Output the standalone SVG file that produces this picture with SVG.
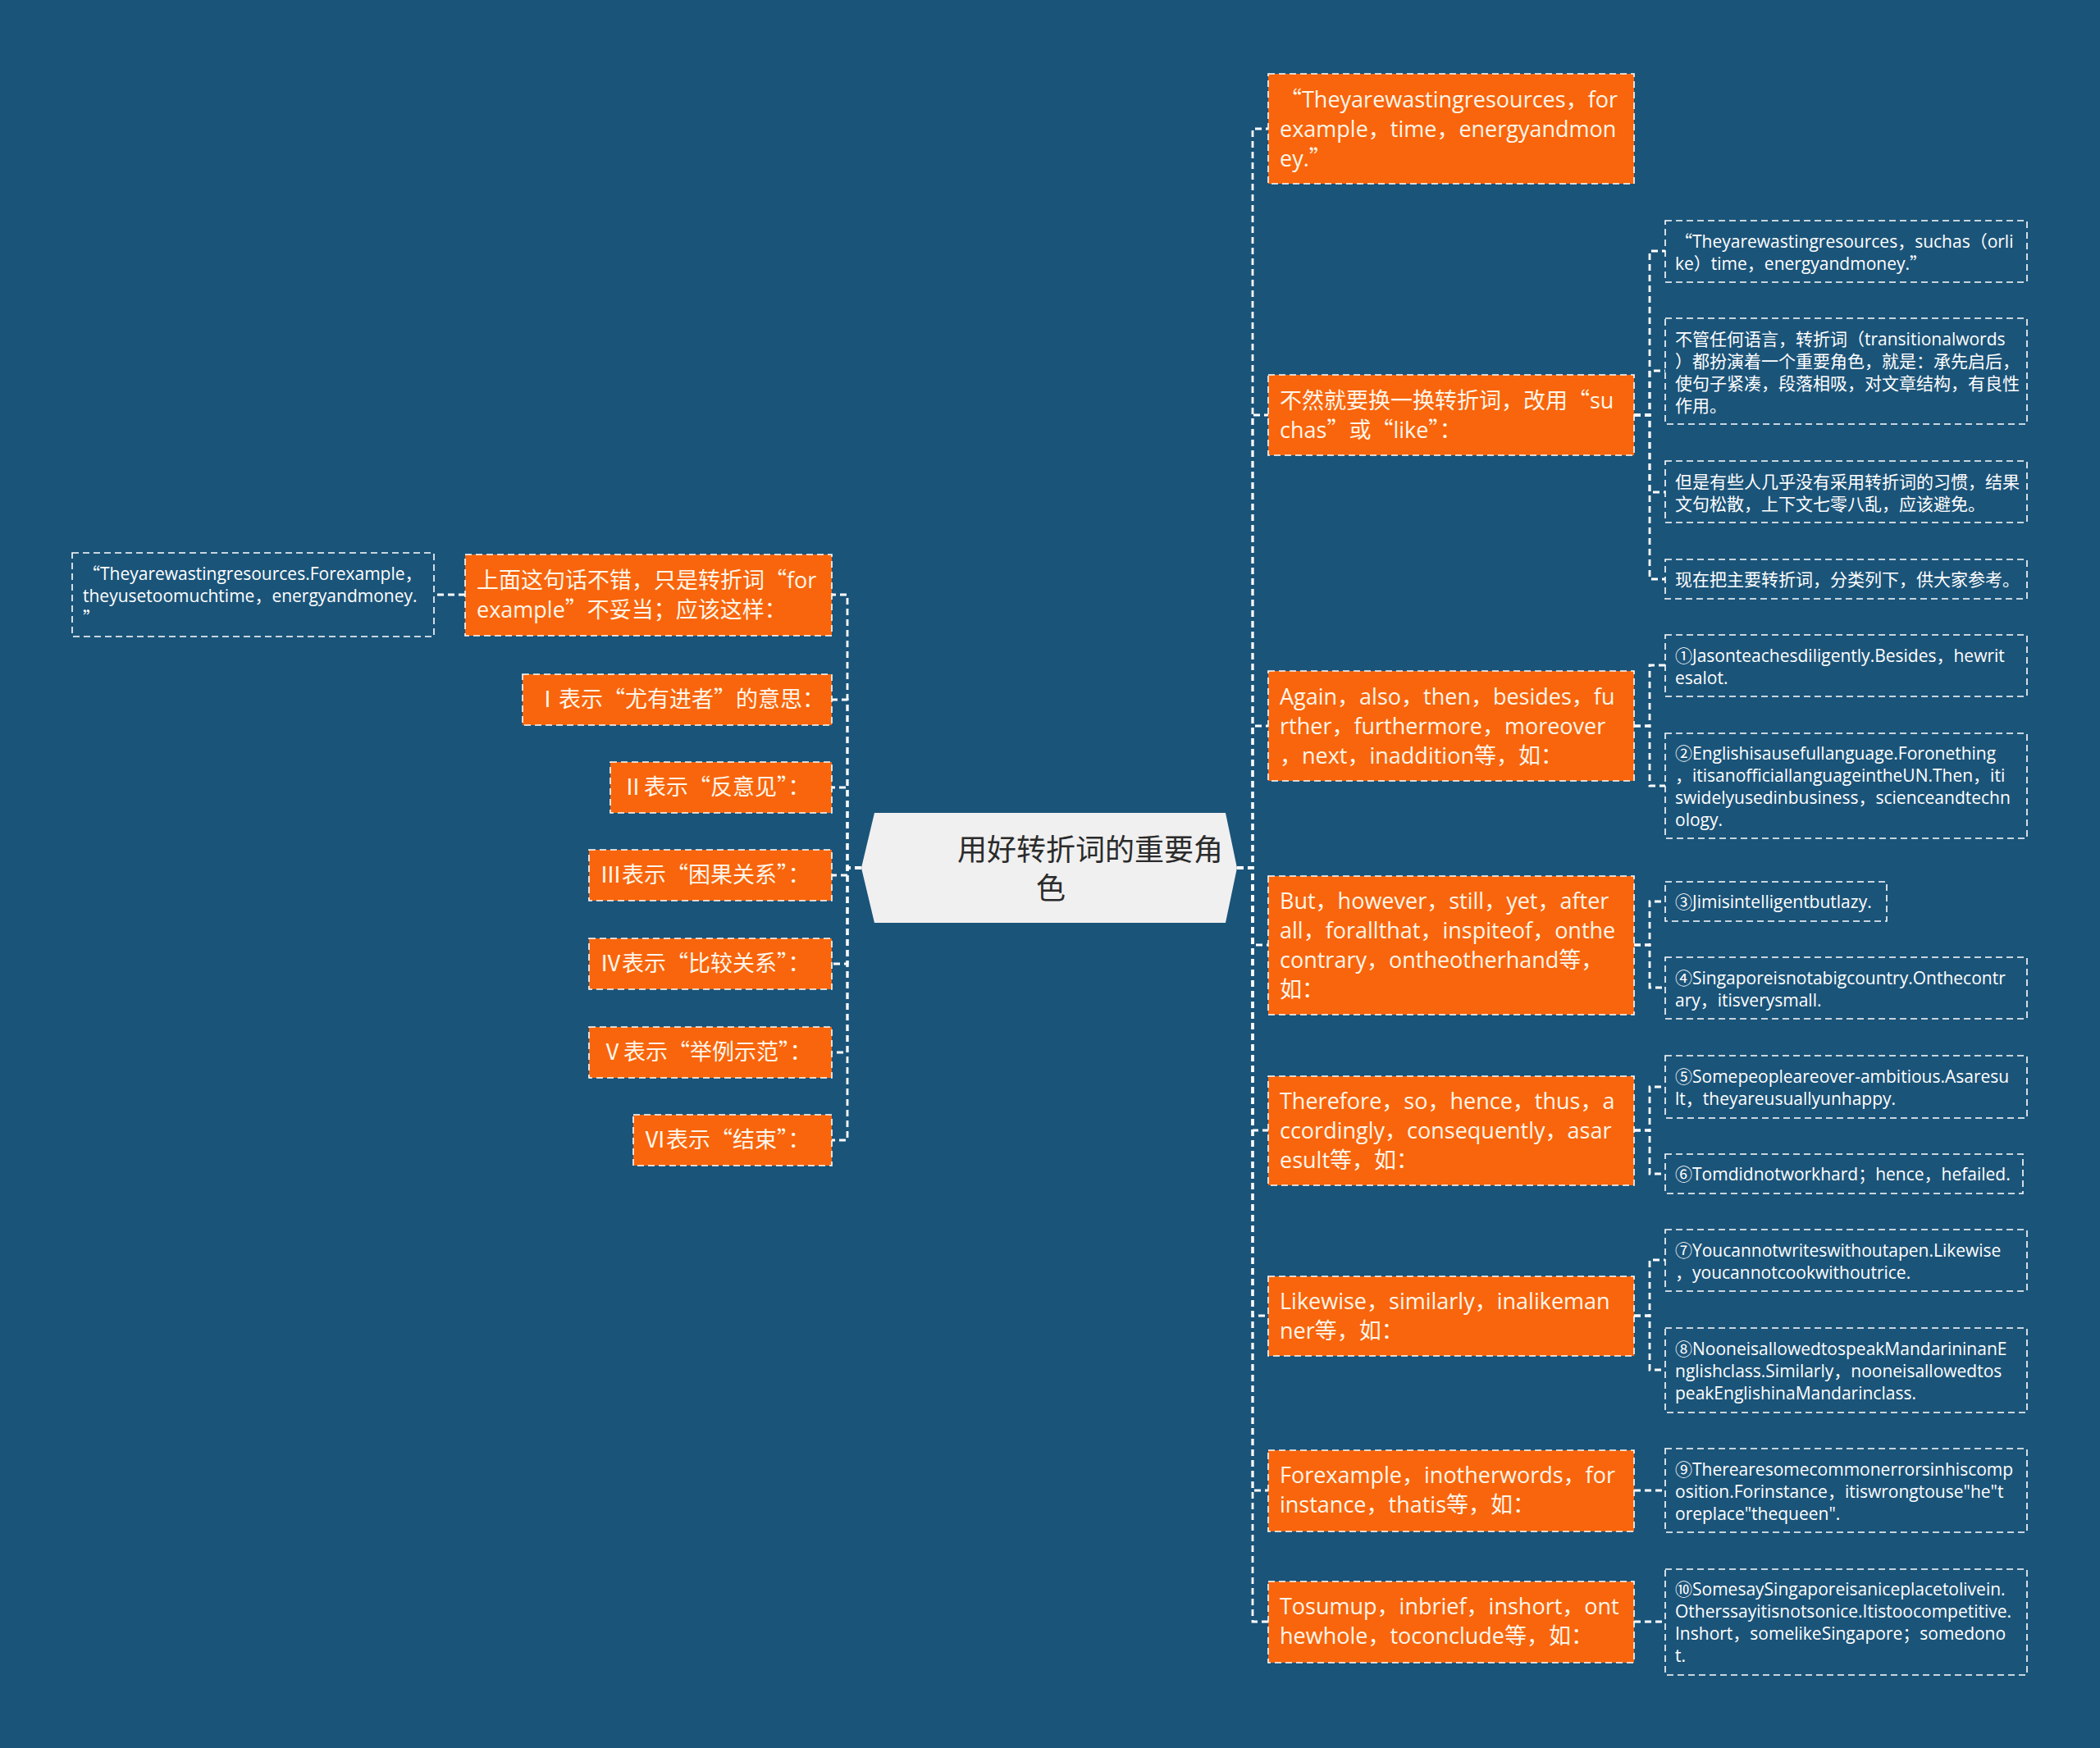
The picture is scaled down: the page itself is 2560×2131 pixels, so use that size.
<svg xmlns="http://www.w3.org/2000/svg" width="2560" height="2131" viewBox="0 0 2560 2131">
<style>
.bg{fill:#1b5479}
.n rect{fill:#f8650c;stroke:#ffffff;stroke-width:1.6;stroke-dasharray:8 5}
.lf rect{fill:none;stroke:#ffffff;stroke-width:1.6;stroke-dasharray:8 5}
text{font-family:"Open Sans","Noto Sans CJK SC",sans-serif}
.n text{font-size:27px;fill:#fff6ea}
.lf text{font-size:21px;fill:#ffffff}
.q{font-family:"Noto Sans CJK SC",sans-serif}
.root polygon{fill:#f0f0f0}
.root text{font-family:"Noto Sans CJK SC",sans-serif;font-size:36px;fill:#2b2b2b}
.c path{fill:none;stroke:#ffffff;stroke-width:2.8;stroke-dasharray:8 5}
</style>
<rect class="bg" x="0" y="0" width="2560" height="2131"/>

<g class="c" id="connectors">
  <path d="M1508 1058H1527V157H1546"/>
  <path d="M1508 1058H1527V506H1546"/>
  <path d="M1508 1058H1527V885H1546"/>
  <path d="M1508 1058H1527V1152H1546"/>
  <path d="M1508 1058H1527V1378H1546"/>
  <path d="M1508 1058H1527V1604H1546"/>
  <path d="M1508 1058H1527V1817H1546"/>
  <path d="M1508 1058H1527V1977H1546"/>
  <path d="M1050 1058H1033V725H1014"/>
  <path d="M1050 1058H1033V853H1014"/>
  <path d="M1050 1058H1033V960H1014"/>
  <path d="M1050 1058H1033V1067H1014"/>
  <path d="M1050 1058H1033V1175H1014"/>
  <path d="M1050 1058H1033V1283H1014"/>
  <path d="M1050 1058H1033V1390H1014"/>
  <path d="M567 725H529"/>
  <path d="M1992 506H2011V306H2030"/>
  <path d="M1992 506H2011V452H2030"/>
  <path d="M1992 506H2011V600H2030"/>
  <path d="M1992 506H2011V706H2030"/>
  <path d="M1992 885H2011V811H2030"/>
  <path d="M1992 885H2011V958H2030"/>
  <path d="M1992 1152H2011V1099H2030"/>
  <path d="M1992 1152H2011V1204H2030"/>
  <path d="M1992 1378H2011V1325H2030"/>
  <path d="M1992 1378H2011V1431H2030"/>
  <path d="M1992 1604H2011V1536H2030"/>
  <path d="M1992 1604H2011V1670H2030"/>
  <path d="M1992 1817H2030"/>
  <path d="M1992 1977H2030"/>
</g>

<g class="root" id="root">
  <polygon points="1050,1058 1066,991 1494,991 1508,1058 1494,1125 1066,1125"/>
  <text x="1167" y="1049">用好转折词的重要角</text>
  <text x="1263" y="1096">色</text>
</g>

<!-- Right main nodes -->
<g class="n" id="n1">
  <rect x="1546" y="90" width="446" height="134"/>
  <text x="1560" y="131"><tspan class="q">“</tspan>Theyarewastingresources，for</text>
  <text x="1560" y="167">example，time，energyandmon</text>
  <text x="1560" y="203">ey.<tspan class="q">”</tspan></text>
</g>
<g class="n" id="n2">
  <rect x="1546" y="457" width="446" height="98"/>
  <text x="1560" y="498">不然就要换一换转折词，改用<tspan class="q">“</tspan>su</text>
  <text x="1560" y="534">chas<tspan class="q">”</tspan>或<tspan class="q">“</tspan>like<tspan class="q">”</tspan>：</text>
</g>
<g class="n" id="n3">
  <rect x="1546" y="818" width="446" height="134"/>
  <text x="1560" y="859">Again，also，then，besides，fu</text>
  <text x="1560" y="895">rther，furthermore，moreover</text>
  <text x="1560" y="931">，next，inaddition等，如：</text>
</g>
<g class="n" id="n4">
  <rect x="1546" y="1068" width="446" height="169"/>
  <text x="1560" y="1108">But，however，still，yet，after</text>
  <text x="1560" y="1144">all，forallthat，inspiteof，onthe</text>
  <text x="1560" y="1180">contrary，ontheotherhand等，</text>
  <text x="1560" y="1216">如：</text>
</g>
<g class="n" id="n5">
  <rect x="1546" y="1312" width="446" height="133"/>
  <text x="1560" y="1352">Therefore，so，hence，thus，a</text>
  <text x="1560" y="1388">ccordingly，consequently，asar</text>
  <text x="1560" y="1424">esult等，如：</text>
</g>
<g class="n" id="n6">
  <rect x="1546" y="1556" width="446" height="97"/>
  <text x="1560" y="1596">Likewise，similarly，inalikeman</text>
  <text x="1560" y="1632">ner等，如：</text>
</g>
<g class="n" id="n7">
  <rect x="1546" y="1768" width="446" height="99"/>
  <text x="1560" y="1808">Forexample，inotherwords，for</text>
  <text x="1560" y="1844">instance，thatis等，如：</text>
</g>
<g class="n" id="n8">
  <rect x="1546" y="1928" width="446" height="99"/>
  <text x="1560" y="1968">Tosumup，inbrief，inshort，ont</text>
  <text x="1560" y="2004">hewhole，toconclude等，如：</text>
</g>

<!-- Left nodes -->
<g class="n" id="l0">
  <rect x="567" y="676" width="447" height="99"/>
  <text x="581" y="717">上面这句话不错，只是转折词<tspan class="q">“</tspan>for</text>
  <text x="581" y="753">example<tspan class="q">”</tspan>不妥当；应该这样：</text>
</g>
<g class="n" id="l1">
  <rect x="637" y="822" width="377" height="62"/>
  <text x="654" y="862">Ⅰ表示<tspan class="q">“</tspan>尤有进者<tspan class="q">”</tspan>的意思：</text>
</g>
<g class="n" id="l2">
  <rect x="744" y="929" width="270" height="62"/>
  <text x="758" y="969">Ⅱ表示<tspan class="q">“</tspan>反意见<tspan class="q">”</tspan>：</text>
</g>
<g class="n" id="l3">
  <rect x="718" y="1036" width="296" height="62"/>
  <text x="731" y="1076">Ⅲ表示<tspan class="q">“</tspan>困果关系<tspan class="q">”</tspan>：</text>
</g>
<g class="n" id="l4">
  <rect x="718" y="1144" width="296" height="62"/>
  <text x="731" y="1184">Ⅳ表示<tspan class="q">“</tspan>比较关系<tspan class="q">”</tspan>：</text>
</g>
<g class="n" id="l5">
  <rect x="718" y="1252" width="296" height="62"/>
  <text x="733" y="1292">Ⅴ表示<tspan class="q">“</tspan>举例示范<tspan class="q">”</tspan>：</text>
</g>
<g class="n" id="l6">
  <rect x="772" y="1359" width="242" height="62"/>
  <text x="785" y="1399">Ⅵ表示<tspan class="q">“</tspan>结束<tspan class="q">”</tspan>：</text>
</g>

<!-- Left leaf -->
<g class="lf" id="ll0">
  <rect x="88" y="674" width="441" height="102"/>
  <text x="101" y="707"><tspan class="q">“</tspan>Theyarewastingresources.Forexample，</text>
  <text x="101" y="734">theyusetoomuchtime，energyandmoney.</text>
  <text x="101" y="761"><tspan class="q">”</tspan></text>
</g>

<!-- Right leaves -->
<g class="lf" id="r1">
  <rect x="2030" y="269" width="441" height="75"/>
  <text x="2042" y="302"><tspan class="q">“</tspan>Theyarewastingresources，suchas（orli</text>
  <text x="2042" y="329">ke）time，energyandmoney.<tspan class="q">”</tspan></text>
</g>
<g class="lf" id="r2">
  <rect x="2030" y="388" width="441" height="129"/>
  <text x="2042" y="421">不管任何语言，转折词（transitionalwords</text>
  <text x="2042" y="448">）都扮演着一个重要角色，就是：承先启后，</text>
  <text x="2042" y="475">使句子紧凑，段落相吸，对文章结构，有良性</text>
  <text x="2042" y="502">作用。</text>
</g>
<g class="lf" id="r3">
  <rect x="2030" y="562" width="441" height="75"/>
  <text x="2042" y="595">但是有些人几乎没有采用转折词的习惯，结果</text>
  <text x="2042" y="622">文句松散，上下文七零八乱，应该避免。</text>
</g>
<g class="lf" id="r4">
  <rect x="2030" y="682" width="441" height="48"/>
  <text x="2042" y="714">现在把主要转折词，分类列下，供大家参考。</text>
</g>
<g class="lf" id="e1">
  <rect x="2030" y="774" width="441" height="75"/>
  <text x="2042" y="807">①Jasonteachesdiligently.Besides，hewrit</text>
  <text x="2042" y="834">esalot.</text>
</g>
<g class="lf" id="e2">
  <rect x="2030" y="894" width="441" height="128"/>
  <text x="2042" y="926">②Englishisausefullanguage.Foronething</text>
  <text x="2042" y="953">，itisanofficiallanguageintheUN.Then，iti</text>
  <text x="2042" y="980">swidelyusedinbusiness，scienceandtechn</text>
  <text x="2042" y="1007">ology.</text>
</g>
<g class="lf" id="e3">
  <rect x="2030" y="1075" width="270" height="48"/>
  <text x="2042" y="1107">③Jimisintelligentbutlazy.</text>
</g>
<g class="lf" id="e4">
  <rect x="2030" y="1167" width="441" height="75"/>
  <text x="2042" y="1200">④Singaporeisnotabigcountry.Onthecontr</text>
  <text x="2042" y="1227">ary，itisverysmall.</text>
</g>
<g class="lf" id="e5">
  <rect x="2030" y="1287" width="441" height="76"/>
  <text x="2042" y="1320">⑤Somepeopleareover-ambitious.Asaresu</text>
  <text x="2042" y="1347">lt，theyareusuallyunhappy.</text>
</g>
<g class="lf" id="e6">
  <rect x="2030" y="1407" width="436" height="48"/>
  <text x="2042" y="1439">⑥Tomdidnotworkhard；hence，hefailed.</text>
</g>
<g class="lf" id="e7">
  <rect x="2030" y="1499" width="441" height="75"/>
  <text x="2042" y="1532">⑦Youcannotwriteswithoutapen.Likewise</text>
  <text x="2042" y="1559">，youcannotcookwithoutrice.</text>
</g>
<g class="lf" id="e8">
  <rect x="2030" y="1619" width="441" height="103"/>
  <text x="2042" y="1652">⑧NooneisallowedtospeakMandarininanE</text>
  <text x="2042" y="1679">nglishclass.Similarly，nooneisallowedtos</text>
  <text x="2042" y="1706">peakEnglishinaMandarinclass.</text>
</g>
<g class="lf" id="e9">
  <rect x="2030" y="1766" width="441" height="102"/>
  <text x="2042" y="1799">⑨Therearesomecommonerrorsinhiscomp</text>
  <text x="2042" y="1826">osition.Forinstance，itiswrongtouse"he"t</text>
  <text x="2042" y="1853">oreplace"thequeen".</text>
</g>
<g class="lf" id="e10">
  <rect x="2030" y="1913" width="441" height="129"/>
  <text x="2042" y="1945">⑩SomesaySingaporeisaniceplacetolivein.</text>
  <text x="2042" y="1972">Otherssayitisnotsonice.Itistoocompetitive.</text>
  <text x="2042" y="1999">Inshort，somelikeSingapore；somedono</text>
  <text x="2042" y="2026">t.</text>
</g>
</svg>
